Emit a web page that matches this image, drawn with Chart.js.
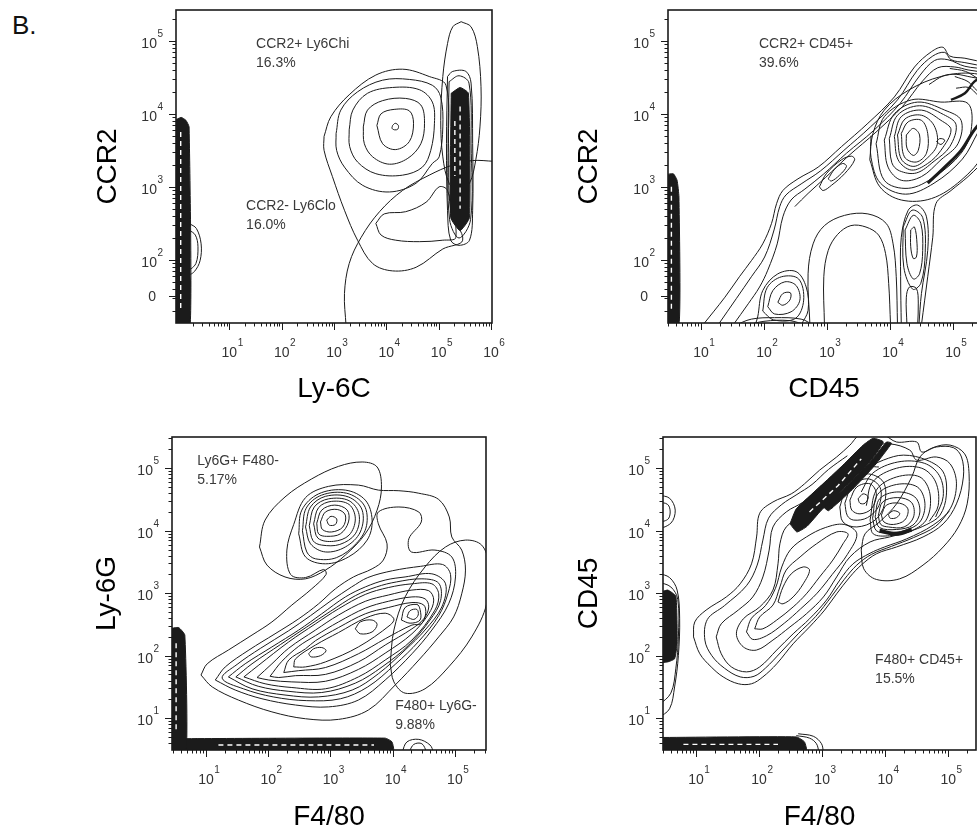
<!DOCTYPE html>
<html>
<head>
<meta charset="utf-8">
<script src="https://cdn.jsdelivr.net/npm/chart.js@4.4.0/dist/chart.umd.min.js"></script>
<style>
  html, body { margin: 0; padding: 0; background: #fff; width: 977px; height: 833px; overflow: hidden; }
  .panel { position: absolute; }
  #tag { position: absolute; left: 12px; top: 10px; line-height: 26px; font: 26px "Liberation Sans", Arial, sans-serif; color: #111; }
</style>
</head>
<body>
<div id="tag">B.</div>
<canvas id="pA" class="panel"></canvas>
<canvas id="pB" class="panel"></canvas>
<canvas id="pC" class="panel"></canvas>
<canvas id="pD" class="panel"></canvas>
<script>
// all values are log10 fluorescence (decades); the biexponential "0" sits below 10^2 on the CCR2 axes

// ---- panel A: CCR2 vs Ly-6C ----
const A_X_EXP = [1, 2, 3, 4, 5, 6];
const A_Y_EXP = [2, 3, 4, 5];
const A_Y_ZERO = 1.50;
const A_NOTE_HI = ['CCR2+ Ly6Chi', '16.3%'];
const A_NOTE_LO = ['CCR2- Ly6Clo', '16.0%'];
const A_RING_0 = [[4.12,3.84],[4.17,3.87],[4.23,3.84],[4.22,3.79],[4.16,3.78],[4.11,3.80]];
const A_RING_1 = [[3.82,3.84],[3.90,4.00],[4.15,4.06],[4.44,4.04],[4.52,3.87],[4.44,3.62],[4.18,3.51],[3.93,3.59]];
const A_RING_2 = [[3.56,3.82],[3.64,4.05],[3.93,4.18],[4.37,4.21],[4.66,4.12],[4.73,3.87],[4.66,3.59],[4.41,3.39],[4.06,3.31],[3.74,3.41],[3.58,3.59]];
const A_RING_3 = [[3.29,3.78],[3.36,4.05],[3.64,4.28],[4.12,4.36],[4.63,4.33],[4.88,4.16],[4.92,3.87],[4.85,3.50],[4.69,3.27],[4.31,3.16],[3.80,3.18],[3.45,3.34],[3.30,3.55]];
const A_RING_4 = [[3.04,3.73],[3.13,4.05],[3.45,4.30],[3.93,4.46],[4.44,4.47],[4.88,4.39],[5.04,4.23],[5.08,3.82],[5.01,3.41],[4.88,3.32],[4.57,3.05],[4.06,2.93],[3.55,3.02],[3.20,3.27],[3.05,3.50]];
const A_OUTER = [[2.81,3.69],[2.94,3.96],[3.29,4.26],[3.80,4.53],[4.31,4.61],[4.82,4.51],[5.14,4.39],[5.19,3.59],[5.23,2.68],[5.46,2.27],[5.08,2.15],[4.57,1.90],[4.12,1.85],[3.74,1.95],[3.45,2.27],[3.20,2.68],[2.97,3.14],[2.81,3.50]];
const A_LOBE = [[3.80,2.50],[3.96,2.63],[4.37,2.66],[4.76,2.79],[5.01,3.00],[5.17,2.95],[5.33,2.31],[5.08,2.27],[4.63,2.25],[4.18,2.27],[3.90,2.34]];
const A_CLUSTER_1 = [[5.17,4.51],[5.27,4.58],[5.52,4.58],[5.62,4.42],[5.65,3.59],[5.65,2.68],[5.59,2.27],[5.39,2.20],[5.23,2.27],[5.17,2.68],[5.15,3.59]];
const A_CLUSTER_2 = [[5.20,4.44],[5.39,4.52],[5.58,4.42],[5.62,3.59],[5.61,2.55],[5.39,2.30],[5.21,2.55],[5.18,3.59]];
const A_CLUSTER_CORE = [[5.24,4.28],[5.41,4.36],[5.57,4.28],[5.59,2.58],[5.41,2.40],[5.23,2.58]];
const A_CLUSTER_GAP = [[5.41,4.10],[5.41,2.70]];
const A_CLUSTER_GAP_2 = [[5.31,3.90],[5.31,3.15]];
const A_GATE_HI = [[5.43,5.26],[5.62,5.19],[5.74,4.92],[5.81,4.37],[5.79,3.82],[5.71,3.37],[5.59,3.05],[5.39,2.93],[5.20,3.05],[5.08,3.41],[5.04,3.91],[5.08,4.51],[5.17,4.96],[5.27,5.19]];
const A_GATE_LO = [[3.23,1.10],[3.20,1.54],[3.29,1.95],[3.52,2.31],[3.87,2.66],[4.31,2.95],[4.82,3.16],[5.27,3.30],[5.65,3.36],[6.05,3.35]];
const A_PILE = [[-0.05,3.91],[0.08,3.95],[0.17,3.91],[0.23,3.82],[0.25,1.10],[-0.05,1.10]];
const A_PILE_BUMP_1 = [[0.23,2.50],[0.37,2.43],[0.46,2.22],[0.44,1.99],[0.33,1.84],[0.23,1.81]];
const A_PILE_BUMP_2 = [[0.23,2.41],[0.35,2.34],[0.40,2.18],[0.36,1.95],[0.23,1.88]];
const A_PILE_GAP = [[0.07,3.75],[0.07,1.30]];

// ---- panel B: CCR2 vs CD45 ----
const B_X_EXP = [1, 2, 3, 4, 5];
const B_Y_EXP = [2, 3, 4, 5];
const B_Y_ZERO = 1.50;
const B_NOTE = ['CCR2+ CD45+', '39.6%'];
const B_OUTER_LEFT = [[1.03,1.11],[1.38,1.49],[1.61,1.77],[1.80,1.99],[1.98,2.22],[2.12,2.50],[2.20,2.77],[2.30,2.95],[2.54,3.11],[2.86,3.27],[3.23,3.55],[3.65,3.87],[4.07,4.23],[4.39,4.64],[4.66,4.85],[4.84,4.91],[4.95,4.79],[5.19,4.76],[5.56,4.69]];
const B_OUTER_RIGHT = [[5.56,3.41],[5.24,3.14],[4.97,2.95],[4.73,2.77],[4.68,2.31],[4.60,1.77],[4.50,1.11]];
const B_ARCH_1 = [[2.96,1.11],[2.95,1.77],[3.02,2.13],[3.17,2.35],[3.38,2.47],[3.62,2.45],[3.82,2.34],[3.93,2.09],[3.98,1.68],[4.01,1.11]];
const B_ARCH_2 = [[2.73,1.11],[2.70,1.81],[2.78,2.22],[2.96,2.47],[3.28,2.61],[3.65,2.63],[3.94,2.50],[4.05,2.22],[4.10,1.77],[4.12,1.11]];
const B_LEFT_2 = [[1.27,1.11],[1.56,1.47],[1.80,1.77],[2.01,2.04],[2.16,2.41],[2.25,2.73],[2.35,2.89],[2.59,3.04],[2.90,3.22],[3.27,3.50],[3.69,3.82],[4.12,4.19],[4.43,4.59],[4.68,4.79],[4.87,4.84],[4.97,4.74],[5.19,4.70],[5.56,4.64]];
const B_LEFT_3 = [[1.51,1.11],[1.75,1.40],[1.93,1.63],[2.06,1.86],[2.21,2.22],[2.30,2.59],[2.43,2.82],[2.65,2.97],[2.94,3.17],[3.31,3.46],[3.74,3.77],[4.16,4.14],[4.48,4.53],[4.71,4.73],[4.92,4.74],[5.19,4.65],[5.56,4.61]];
const B_LEFT_4 = [[2.49,2.73],[2.70,2.91],[2.98,3.13],[3.35,3.43],[3.78,3.75],[4.20,4.10],[4.52,4.45],[4.76,4.63],[5.03,4.64],[5.24,4.60],[5.56,4.56]];
const B_LEFT_5 = [[4.62,4.40],[4.85,4.52],[5.05,4.54],[5.30,4.50],[5.56,4.46]];
const B_LOW_1 = [[2.22,1.42],[2.30,1.54],[2.42,1.55],[2.41,1.45],[2.30,1.38]];
const B_LOW_2 = [[2.06,1.36],[2.14,1.58],[2.33,1.70],[2.51,1.65],[2.57,1.45],[2.43,1.29],[2.17,1.26]];
const B_LOW_2B = [[1.98,1.30],[2.05,1.62],[2.28,1.77],[2.55,1.74],[2.63,1.45],[2.50,1.20],[2.15,1.18]];
const B_LOW_3 = [[1.86,1.11],[1.90,1.22],[1.98,1.58],[2.22,1.81],[2.51,1.84],[2.67,1.63],[2.70,1.31],[2.59,1.11]];
const B_BOTTOM_1 = [[1.53,1.10],[1.80,1.19],[2.17,1.21],[2.59,1.19],[2.80,1.10]];
const B_BOTTOM_2 = [[1.70,1.10],[2.00,1.16],[2.40,1.17],[2.70,1.10]];
const B_UP_1 = [[3.02,3.11],[3.12,3.24],[3.25,3.32],[3.31,3.28],[3.20,3.16],[3.07,3.08]];
const B_UP_2 = [[2.88,3.00],[2.99,3.18],[3.23,3.37],[3.39,3.42],[3.44,3.37],[3.28,3.18],[3.07,3.02],[2.94,2.95]];
const B_CENTER_1 = [[4.26,3.71],[4.37,3.80],[4.47,3.71],[4.45,3.50],[4.37,3.43],[4.27,3.53]];
const B_CENTER_2 = [[4.18,3.73],[4.29,3.89],[4.50,3.91],[4.60,3.73],[4.58,3.46],[4.42,3.34],[4.23,3.41]];
const B_CENTER_2B = [[4.12,3.71],[4.24,3.93],[4.50,3.98],[4.70,3.84],[4.75,3.58],[4.60,3.40],[4.38,3.28],[4.18,3.38]];
const B_CENTER_3 = [[4.07,3.69],[4.18,3.96],[4.50,4.05],[4.81,3.91],[4.97,3.78],[4.81,3.50],[4.60,3.32],[4.34,3.23],[4.13,3.37]];
const B_CENTER_3B = [[3.99,3.66],[4.12,3.98],[4.47,4.11],[4.85,3.99],[5.05,3.85],[4.95,3.55],[4.70,3.35],[4.42,3.19],[4.15,3.22],[4.03,3.33]];
const B_CENTER_4 = [[3.91,3.64],[4.07,4.00],[4.44,4.16],[4.87,4.05],[5.13,3.91],[5.08,3.59],[4.81,3.37],[4.50,3.14],[4.18,3.09],[3.97,3.27]];
const B_CENTER_5 = [[3.78,3.59],[3.91,3.96],[4.34,4.19],[4.81,4.16],[5.24,4.14],[5.29,3.78],[5.13,3.46],[4.71,3.14],[4.29,2.98],[3.91,3.09]];
const B_CENTER_6 = [[3.70,3.70],[3.70,3.40],[3.85,3.05],[4.25,2.90],[4.70,3.05],[5.15,3.38],[5.40,3.75]];
const B_CENTER_SPOT = [[4.74,3.62],[4.79,3.66],[4.87,3.64],[4.81,3.58]];
const B_LEG_1 = [[4.33,2.41],[4.39,2.45],[4.43,2.22],[4.42,2.04],[4.37,2.02],[4.33,2.18]];
const B_LEG_2 = [[4.24,2.41],[4.37,2.61],[4.49,2.50],[4.52,2.13],[4.47,1.81],[4.37,1.74],[4.27,1.95]];
const B_LEG_2B = [[4.21,2.45],[4.35,2.68],[4.52,2.58],[4.56,2.10],[4.49,1.68],[4.36,1.60],[4.22,1.90]];
const B_LEG_3 = [[4.18,1.11],[4.17,1.77],[4.18,2.31],[4.29,2.68],[4.44,2.75],[4.58,2.59],[4.60,2.13],[4.50,1.54],[4.46,1.11]];
const B_LEG_4 = [[4.27,1.11],[4.26,1.49],[4.31,1.63],[4.42,1.61],[4.45,1.41],[4.44,1.11]];
const B_DENSE_1 = [[4.60,3.05],[4.87,3.27],[5.13,3.50],[5.34,3.78],[5.56,4.00]];
const B_DENSE_2 = [[4.97,4.19],[5.19,4.28],[5.34,4.44],[5.56,4.55]];
const B_UPPER_RIGHT = [[5.03,4.51],[5.24,4.44],[5.38,4.32],[5.56,4.23]];
const B_UPPER_RIGHT_2 = [[4.95,4.62],[5.20,4.58],[5.40,4.48],[5.56,4.40]];
const B_UPPER_RIGHT_3 = [[5.05,4.35],[5.25,4.36],[5.40,4.25],[5.56,4.12]];
const B_GATE = [[3.68,3.37],[3.73,3.73],[3.91,4.05],[4.29,4.32],[4.81,4.51],[5.34,4.55],[5.66,4.42],[5.71,3.96],[5.50,3.46],[5.13,3.09],[4.66,2.84],[4.18,2.82],[3.84,3.00]];
const B_PILE = [[0.40,3.16],[0.56,3.18],[0.62,3.09],[0.65,2.86],[0.65,1.10],[0.40,1.10]];
const B_PILE_GAP = [[0.53,3.00],[0.53,1.30]];

// ---- panel C: Ly-6G vs F4/80 ----
const C_X_EXP = [1, 2, 3, 4, 5];
const C_Y_EXP = [1, 2, 3, 4, 5];
const C_NOTE_LY6G = ['Ly6G+ F480-', '5.17%'];
const C_NOTE_F480 = ['F480+ Ly6G-', '9.88%'];
const C_GATE_LY6G = [[1.86,3.74],[1.95,4.17],[2.27,4.54],[2.70,4.83],[3.13,5.03],[3.51,5.10],[3.75,5.02],[3.82,4.70],[3.75,4.33],[3.56,3.95],[3.24,3.61],[2.92,3.37],[2.60,3.23],[2.27,3.26],[1.98,3.45]];
const C_GATE_F480 = [[3.96,1.87],[4.02,2.41],[4.20,2.94],[4.52,3.42],[4.85,3.74],[5.17,3.85],[5.43,3.77],[5.54,3.47],[5.51,2.83],[5.27,2.30],[4.90,1.82],[4.52,1.47],[4.20,1.40],[4.02,1.58]];
const C_LY6G_1 = [[2.94,4.17],[3.01,4.23],[3.10,4.19],[3.08,4.10],[2.98,4.09]];
const C_LY6G_2 = [[2.84,4.14],[2.92,4.30],[3.11,4.34],[3.24,4.25],[3.20,4.06],[3.02,3.98],[2.87,4.02]];
const C_LY6G_3 = [[2.78,4.12],[2.86,4.33],[3.07,4.41],[3.27,4.33],[3.29,4.14],[3.16,3.95],[2.94,3.91],[2.81,3.95]];
const C_LY6G_4 = [[2.73,4.11],[2.81,4.37],[3.02,4.47],[3.30,4.42],[3.40,4.19],[3.30,3.93],[3.05,3.83],[2.80,3.88]];
const C_LY6G_4B = [[2.66,4.08],[2.74,4.38],[2.97,4.51],[3.30,4.48],[3.46,4.26],[3.40,3.95],[3.15,3.78],[2.86,3.77],[2.72,3.84]];
const C_LY6G_5 = [[2.60,4.06],[2.68,4.38],[2.92,4.55],[3.29,4.54],[3.51,4.33],[3.48,3.98],[3.24,3.74],[2.92,3.66],[2.68,3.79]];
const C_LY6G_5B = [[2.55,4.00],[2.61,4.36],[2.86,4.57],[3.26,4.60],[3.54,4.41],[3.58,4.08],[3.42,3.80],[3.10,3.57],[2.76,3.55],[2.62,3.66]];
const C_LY6G_6 = [[2.49,3.95],[2.54,4.33],[2.81,4.59],[3.24,4.65],[3.56,4.49],[3.67,4.17],[3.59,3.85],[3.29,3.58],[2.92,3.47],[2.60,3.58]];
const C_OUTER = [[0.92,1.69],[1.02,1.87],[1.36,2.09],[1.74,2.33],[2.06,2.54],[2.38,2.81],[2.70,3.07],[2.93,3.30],[2.89,3.38],[2.60,3.25],[2.36,3.30],[2.30,3.69],[2.41,4.10],[2.60,4.53],[2.97,4.71],[3.45,4.73],[3.77,4.65],[4.10,4.64],[4.42,4.60],[4.74,4.50],[4.91,4.22],[4.95,3.90],[5.11,3.69],[5.17,3.37],[5.11,2.99],[4.98,2.62],[4.74,2.30],[4.42,1.93],[4.04,1.53],[3.61,1.13],[3.13,0.98],[2.60,0.99],[2.06,1.10],[1.52,1.29],[1.10,1.50]];
const C_LEVEL_2 = [[1.15,1.61],[1.31,1.82],[1.69,2.09],[2.11,2.35],[2.49,2.59],[2.81,2.83],[3.08,3.07],[3.37,3.26],[3.67,3.39],[3.85,3.53],[3.91,3.79],[3.77,4.11],[3.77,4.30],[4.10,4.38],[4.42,4.30],[4.46,4.14],[4.26,3.87],[4.30,3.66],[4.68,3.69],[4.95,3.58],[5.01,3.26],[4.90,2.83],[4.63,2.41],[4.31,2.03],[3.88,1.61],[3.45,1.29],[2.97,1.18],[2.44,1.21],[1.90,1.31],[1.47,1.45]];
const C_LEVEL_2B = [[3.34,3.10],[3.01,2.88],[2.68,2.64],[2.33,2.40],[1.88,2.12],[1.50,1.86],[1.26,1.64],[1.60,1.47],[2.08,1.34],[2.62,1.28],[3.16,1.31],[3.60,1.50],[4.04,1.86],[4.42,2.23],[4.74,2.64],[4.89,3.00],[4.93,3.30],[4.80,3.46],[4.45,3.43],[4.00,3.36],[3.60,3.25]];
const C_LEVEL_3 = [[1.36,1.66],[1.63,1.87],[2.06,2.14],[2.49,2.41],[2.86,2.67],[3.24,2.94],[3.56,3.10],[3.88,3.21],[4.20,3.26],[4.63,3.31],[4.85,3.15],[4.79,2.78],[4.52,2.41],[4.20,2.09],[3.77,1.71],[3.35,1.45],[2.81,1.34],[2.27,1.37],[1.74,1.47]];
const C_LEVEL_3B = [[1.48,1.66],[1.74,1.87],[2.20,2.18],[2.62,2.46],[3.00,2.71],[3.40,2.96],[3.74,3.10],[4.06,3.18],[4.47,3.23],[4.74,3.16],[4.77,2.88],[4.60,2.57],[4.26,2.17],[3.83,1.82],[3.40,1.56],[2.86,1.41],[2.32,1.43],[1.84,1.51]];
const C_LEVEL_4 = [[1.61,1.66],[1.85,1.85],[2.33,2.22],[2.76,2.51],[3.13,2.75],[3.56,2.98],[3.93,3.09],[4.31,3.15],[4.63,3.15],[4.74,2.99],[4.68,2.73],[4.31,2.25],[3.88,1.93],[3.45,1.66],[2.92,1.47],[2.38,1.49],[1.95,1.55]];
const C_LEVEL_5 = [[1.82,1.65],[2.06,1.87],[2.33,2.12],[2.76,2.41],[3.13,2.65],[3.56,2.87],[3.93,2.97],[4.31,3.05],[4.58,3.04],[4.66,2.89],[4.58,2.67],[4.31,2.35],[3.88,2.04],[3.45,1.78],[2.92,1.59],[2.38,1.58],[2.01,1.61]];
const C_LEVEL_6 = [[2.03,1.67],[2.22,1.91],[2.49,2.15],[2.76,2.32],[3.13,2.54],[3.56,2.76],[3.93,2.87],[4.31,2.94],[4.52,2.91],[4.58,2.78],[4.50,2.59],[4.31,2.43],[3.88,2.17],[3.45,1.90],[2.92,1.70],[2.44,1.68],[2.17,1.65]];
const C_LEVEL_7 = [[2.25,1.73],[2.33,1.93],[2.60,2.11],[2.76,2.24],[3.13,2.45],[3.56,2.67],[3.93,2.77],[4.31,2.85],[4.50,2.81],[4.53,2.67],[4.46,2.51],[4.31,2.49],[3.88,2.27],[3.45,2.03],[2.92,1.81],[2.49,1.76]];
const C_LEVEL_8 = [[2.41,1.82],[2.44,1.95],[2.76,2.17],[3.13,2.37],[3.56,2.60],[3.88,2.68],[4.02,2.59],[3.96,2.49],[3.45,2.14],[2.92,1.90],[2.60,1.82]];
const C_PEAK_L = [[2.65,2.03],[2.73,2.11],[2.86,2.13],[2.93,2.08],[2.84,2.00],[2.69,1.98]];
const C_PEAK_M = [[3.40,2.43],[3.48,2.54],[3.67,2.57],[3.75,2.50],[3.67,2.38],[3.48,2.35]];
const C_PEAK_R = [[4.23,2.62],[4.28,2.72],[4.39,2.74],[4.41,2.65],[4.34,2.58]];
const C_PEAK_R2 = [[4.14,2.57],[4.20,2.77],[4.39,2.82],[4.44,2.74],[4.44,2.57],[4.28,2.52]];
const C_PILE_Y = [[0.40,2.43],[0.56,2.45],[0.66,2.33],[0.68,0.45],[0.40,0.45]];
const C_PILE_X = [[0.40,0.67],[3.88,0.68],[3.99,0.62],[4.01,0.45],[0.40,0.45]];
const C_PILE_ARC_1 = [[4.15,0.45],[4.23,0.62],[4.42,0.66],[4.60,0.57],[4.66,0.45]];
const C_PILE_ARC_2 = [[4.26,0.45],[4.34,0.58],[4.47,0.59],[4.55,0.45]];
const C_GAP_Y = [[0.52,2.20],[0.52,0.80]];
const C_GAP_X = [[1.20,0.57],[3.70,0.57]];

// ---- panel D: CD45 vs F4/80 ----
const D_X_EXP = [1, 2, 3, 4, 5];
const D_Y_EXP = [1, 2, 3, 4, 5];
const D_NOTE = ['F480+ CD45+', '15.5%'];
const D_GATE = [[3.62,3.69],[3.68,3.95],[3.91,4.14],[4.18,4.43],[4.42,4.86],[4.55,5.18],[4.76,5.33],[5.03,5.37],[5.26,5.23],[5.33,4.91],[5.30,4.43],[5.16,4.06],[4.92,3.74],[4.60,3.45],[4.23,3.23],[3.86,3.22],[3.66,3.39]];
const D_OUTER = [[0.96,2.30],[0.98,2.54],[1.16,2.73],[1.48,2.94],[1.70,3.15],[1.88,3.47],[1.96,3.90],[2.01,4.28],[2.22,4.46],[2.51,4.59],[2.72,4.75],[2.96,4.97],[3.23,5.18],[3.44,5.37],[3.60,5.53],[3.97,5.53],[4.18,5.42],[4.50,5.42],[4.58,5.26],[4.81,5.34],[5.08,5.33],[5.21,5.18],[5.24,4.86],[5.13,4.43],[4.92,4.11],[4.60,3.90],[4.18,3.74],[3.86,3.63],[3.62,3.45],[3.44,3.26],[3.23,2.99],[3.04,2.73],[2.80,2.46],[2.54,2.19],[2.28,1.87],[2.06,1.66],[1.88,1.55],[1.67,1.55],[1.43,1.66],[1.24,1.82],[1.06,2.03]];
const D_LEVEL_1B = [[3.40,5.20],[3.10,4.98],[2.84,4.74],[2.60,4.58],[2.36,4.42],[2.15,4.20],[2.06,3.85],[1.97,3.45],[1.80,3.12],[1.45,2.80],[1.18,2.58],[1.14,2.25],[1.25,2.00],[1.45,1.80],[1.70,1.66],[1.92,1.67],[2.10,1.80],[2.35,2.06],[2.62,2.35],[2.90,2.63],[3.15,2.95],[3.35,3.22],[3.55,3.45],[3.78,3.62],[4.10,3.75],[4.45,3.89],[4.80,4.07],[5.02,4.32]];
const D_LEVEL_2 = [[1.32,2.30],[1.40,2.51],[1.67,2.73],[1.90,2.94],[2.06,3.26],[2.16,3.69],[2.22,4.06],[2.43,4.30],[2.70,4.46],[2.96,4.70],[3.23,4.91],[3.49,5.15],[3.76,5.34],[4.07,5.39],[4.39,5.29],[4.50,5.13],[4.81,5.18],[5.03,5.07],[5.13,4.75],[5.03,4.35],[4.76,4.09],[4.34,3.87],[3.99,3.74],[3.76,3.64],[3.49,3.47],[3.28,3.21],[3.07,2.89],[2.80,2.59],[2.54,2.35],[2.28,2.09],[2.01,1.82],[1.80,1.74],[1.56,1.82],[1.40,2.03]];
const D_LEVEL_3 = [[3.65,4.97],[3.97,5.13],[4.29,5.21],[4.66,5.13],[4.92,4.94],[4.97,4.57],[4.87,4.25],[4.66,4.10],[4.36,3.98],[4.07,3.90],[3.76,3.82],[3.44,3.58],[3.23,3.26],[3.02,2.94],[2.75,2.67],[2.49,2.46],[2.22,2.25],[1.96,2.09],[1.75,2.14],[1.64,2.35],[1.75,2.59],[2.01,2.78],[2.22,3.05],[2.30,3.47],[2.33,3.79],[2.43,4.06],[2.70,4.25],[3.02,4.51],[3.33,4.75]];
const D_LOBE_0 = [[1.80,2.38],[1.88,2.60],[2.10,2.80],[2.26,3.08],[2.36,3.42],[2.50,3.70],[2.75,3.90],[3.05,4.05],[3.35,4.10],[3.55,3.95],[3.40,3.62],[3.16,3.30],[2.92,3.00],[2.66,2.75],[2.40,2.52],[2.12,2.32],[1.90,2.26]];
const D_LOBE_1 = [[1.93,2.43],[2.01,2.62],[2.22,2.81],[2.33,3.10],[2.43,3.37],[2.65,3.58],[2.91,3.79],[3.23,3.98],[3.41,3.95],[3.33,3.79],[3.17,3.53],[2.96,3.26],[2.75,2.99],[2.54,2.78],[2.28,2.57],[2.06,2.43]];
const D_LOBE_2 = [[2.30,2.86],[2.38,3.10],[2.51,3.31],[2.70,3.42],[2.80,3.37],[2.70,3.15],[2.54,2.94],[2.38,2.83]];
const D_BAND = [[2.49,4.11],[2.59,4.35],[2.96,4.70],[3.33,5.05],[3.65,5.37],[3.81,5.48],[3.97,5.42],[3.72,5.05],[3.35,4.68],[2.98,4.32],[2.76,4.07],[2.60,3.98]];
const D_BAND_GAP = [[2.80,4.30],[3.25,4.72],[3.62,5.15]];
const D_BAND_B = [[3.02,4.38],[3.40,4.72],[3.75,5.08],[4.02,5.42],[4.10,5.40],[3.83,5.04],[3.48,4.66],[3.10,4.32]];
const D_MID_1 = [[3.57,4.51],[3.65,4.59],[3.73,4.54],[3.68,4.44],[3.60,4.44]];
const D_MID_2 = [[3.44,4.49],[3.55,4.70],[3.76,4.75],[3.86,4.59],[3.78,4.35],[3.60,4.27],[3.47,4.33]];
const D_MID_2B = [[3.36,4.44],[3.48,4.73],[3.73,4.83],[3.92,4.69],[3.90,4.40],[3.72,4.21],[3.50,4.17],[3.40,4.24]];
const D_MID_3 = [[3.28,4.38],[3.41,4.75],[3.70,4.91],[3.97,4.78],[3.99,4.43],[3.84,4.17],[3.55,4.06],[3.33,4.14]];
const D_MID_4 = [[3.15,4.35],[3.30,4.80],[3.62,5.02],[3.90,5.02]];
const D_RIGHT_1 = [[4.05,4.26],[4.13,4.32],[4.23,4.28],[4.18,4.21],[4.08,4.20]];
const D_RIGHT_2 = [[3.94,4.25],[4.02,4.41],[4.23,4.44],[4.36,4.35],[4.31,4.17],[4.13,4.10],[3.98,4.14]];
const D_RIGHT_2B = [[3.89,4.24],[3.96,4.46],[4.20,4.53],[4.42,4.45],[4.45,4.22],[4.30,4.06],[4.05,4.06],[3.93,4.10]];
const D_RIGHT_3 = [[3.84,4.22],[3.91,4.51],[4.18,4.62],[4.47,4.54],[4.55,4.30],[4.44,4.09],[4.18,4.02],[3.91,4.05]];
const D_RIGHT_3B = [[3.80,4.20],[3.88,4.58],[4.18,4.74],[4.51,4.70],[4.63,4.44],[4.55,4.14],[4.30,4.00],[4.05,3.97],[3.86,4.00]];
const D_RIGHT_4 = [[3.76,4.17],[3.86,4.65],[4.18,4.86],[4.55,4.86],[4.71,4.59],[4.66,4.19],[4.42,4.00],[4.07,3.92],[3.81,3.95]];
const D_RIGHT_5 = [[3.70,4.40],[3.80,4.78],[4.18,5.00],[4.58,5.00],[4.80,4.78],[4.84,4.40],[4.70,4.15]];
const D_RIGHT_6 = [[3.62,4.62],[3.80,4.92],[4.20,5.10],[4.62,5.08],[4.86,4.88],[4.92,4.55],[4.80,4.22]];
const D_DENSE = [[3.91,4.00],[4.18,3.95],[4.42,4.02]];
const D_PILE_Y = [[0.40,3.00],[0.55,3.05],[0.68,2.95],[0.70,2.20],[0.66,1.95],[0.55,1.90],[0.40,1.90]];
const D_PILE_Y_EDGE_1 = [[0.40,3.32],[0.58,3.25],[0.70,3.05],[0.74,2.60],[0.72,2.00],[0.66,1.50],[0.58,1.15],[0.40,1.00]];
const D_PILE_Y_EDGE_2 = [[0.40,3.18],[0.60,3.10],[0.71,2.90],[0.72,2.30],[0.68,1.80],[0.60,1.40],[0.40,1.20]];
const D_PILE_SPOT_1 = [[0.40,4.57],[0.58,4.52],[0.67,4.33],[0.60,4.12],[0.40,4.06]];
const D_PILE_SPOT_2 = [[0.40,4.46],[0.55,4.42],[0.59,4.30],[0.55,4.18],[0.40,4.16]];
const D_PILE_X = [[0.40,0.69],[2.59,0.70],[2.72,0.62],[2.75,0.45],[0.40,0.45]];
const D_PILE_ARC_1 = [[2.59,0.72],[2.80,0.68],[2.91,0.59],[2.95,0.45]];
const D_PILE_ARC_2 = [[2.62,0.75],[2.86,0.71],[2.99,0.59],[3.02,0.45]];
const D_GAP_X = [[0.80,0.58],[2.30,0.58]];

// ---------------------------------------------------------------
const FONT = '"Liberation Sans", Arial, Helvetica, sans-serif';
const INK = '#1b1b1b';
const NOTE_INK = '#3a3a3a';

const pts = a => a.map(p => ({x: p[0], y: p[1]}));
const base = {showLine: true, pointRadius: 0, borderColor: INK, borderWidth: 1, tension: 0.35, fill: false};
const ring = (a, w) => Object.assign({}, base, {data: pts(a.concat([a[0]])), borderWidth: w || 1});
const path = (a, w) => Object.assign({}, base, {data: pts(a), borderWidth: w || 1});
const solid = a => Object.assign({}, base, {data: pts(a.concat([a[0]])), backgroundColor: INK, tension: 0.15, fill: 'shape'});
const gap = a => Object.assign({}, base, {data: pts(a), borderColor: '#fff', borderWidth: 1.4, borderDash: [5, 4], tension: 0, order: -1});

// ticks, labels, frame and gate notes
const flowAxes = {
  id: 'flowAxes',
  afterDraw(chart, _args, o) {
    const {ctx, chartArea: a} = chart;
    const xs = chart.scales.x, ys = chart.scales.y;
    const minor = s => {
      const v = [];
      for (let d = Math.floor(s.min); d < s.max; d++) {
        for (let k = 2; k < 10; k++) {
          const t = d + Math.log10(k);
          if (t > s.min && t < s.max) v.push(t);
        }
      }
      return v;
    };
    ctx.save();
    ctx.strokeStyle = INK;
    ctx.lineWidth = 1;
    ctx.beginPath();
    minor(xs).forEach(t => { const p = Math.round(xs.getPixelForValue(t)) + 0.5; ctx.moveTo(p, a.bottom); ctx.lineTo(p, a.bottom + 3.5); });
    o.xExp.forEach(e => { const p = Math.round(xs.getPixelForValue(e)) + 0.5; ctx.moveTo(p, a.bottom); ctx.lineTo(p, a.bottom + 7); });
    minor(ys).forEach(t => { const p = Math.round(ys.getPixelForValue(t)) + 0.5; ctx.moveTo(a.left, p); ctx.lineTo(a.left - 3.5, p); });
    const yMajors = o.yZero != null ? o.yExp.concat([o.yZero]) : o.yExp;
    yMajors.forEach(e => { const p = Math.round(ys.getPixelForValue(e)) + 0.5; ctx.moveTo(a.left, p); ctx.lineTo(a.left - 7, p); });
    ctx.stroke();

    ctx.lineWidth = 1.6;
    ctx.strokeRect(a.left, a.top, a.right - a.left, a.bottom - a.top);

    ctx.fillStyle = '#333';
    ctx.textBaseline = 'alphabetic';
    o.xExp.forEach(e => {
      const p = xs.getPixelForValue(e);
      ctx.font = '14px ' + FONT;
      ctx.textAlign = 'center';
      const w = ctx.measureText('10').width;
      ctx.fillText('10', p, a.bottom + 34);
      ctx.font = '10px ' + FONT;
      ctx.textAlign = 'left';
      ctx.fillText(String(e), p + w / 2 + 0.5, a.bottom + 23);
    });
    o.yExp.forEach(e => {
      const p = ys.getPixelForValue(e);
      ctx.font = '10px ' + FONT;
      ctx.textAlign = 'right';
      const ew = ctx.measureText(String(e)).width;
      ctx.fillText(String(e), a.left - 13, p - 4);
      ctx.font = '14px ' + FONT;
      ctx.fillText('10', a.left - 13 - ew - 0.5, p + 7);
    });
    if (o.yZero != null) {
      ctx.font = '14px ' + FONT;
      ctx.textAlign = 'right';
      ctx.fillText('0', a.left - 20, ys.getPixelForValue(o.yZero) + 5);
    }

    ctx.fillStyle = NOTE_INK;
    ctx.font = '14px ' + FONT;
    ctx.textAlign = 'left';
    o.notes.forEach(n => {
      const px = xs.getPixelForValue(n.at[0]), py = ys.getPixelForValue(n.at[1]);
      n.lines.forEach((t, i) => ctx.fillText(t, px, py + 19 * i));
    });
    ctx.restore();
  }
};

function makePanel(p) {
  const cv = document.getElementById(p.id);
  const padR = 18;
  const left = p.area.l - 96, top = p.area.t - 10;
  const w = p.area.r - left + padR, h = p.xTitleY + 30 - top;
  cv.width = w; cv.height = h;
  cv.style.left = left + 'px'; cv.style.top = top + 'px';
  cv.style.width = w + 'px'; cv.style.height = h + 'px';
  const xH = h - (p.area.b - top);
  const titleFont = {family: FONT, size: 28, lineHeight: 1};
  new Chart(cv, {
    type: 'scatter',
    data: {datasets: p.datasets},
    options: {
      responsive: false,
      animation: false,
      events: [],
      layout: {padding: {left: 0, top: 10, right: padR, bottom: 0}},
      plugins: {
        legend: {display: false},
        tooltip: {enabled: false},
        flowAxes: {xExp: p.xExp, yExp: p.yExp, yZero: p.yZero, notes: p.notes}
      },
      scales: {
        x: {
          type: 'linear', min: p.x[0], max: p.x[1],
          grid: {display: false}, border: {display: false}, ticks: {display: false},
          title: {display: true, text: p.xTitle, color: '#000', font: titleFont, padding: {top: 0, bottom: 16}},
          afterFit: s => { s.height = xH; }
        },
        y: {
          type: 'linear', min: p.y[0], max: p.y[1],
          grid: {display: false}, border: {display: false}, ticks: {display: false},
          title: {display: true, text: p.yTitle, color: '#000', font: titleFont, padding: {top: p.yTitleX - left - 14, bottom: 0}},
          afterFit: s => { s.width = 96; }
        }
      }
    },
    plugins: [flowAxes]
  });
}

makePanel({
  id: 'pA', area: {l: 176, t: 10, r: 492, b: 323}, yTitleX: 108, xTitleY: 389,
  x: [-0.02, 6.02], y: [1.137, 5.42], xExp: A_X_EXP, yExp: A_Y_EXP, yZero: A_Y_ZERO,
  xTitle: 'Ly-6C', yTitle: 'CCR2',
  notes: [{lines: A_NOTE_HI, at: [1.51, 4.90]}, {lines: A_NOTE_LO, at: [1.32, 2.68]}],
  datasets: [
    solid(A_PILE), ring(A_PILE_BUMP_1), ring(A_PILE_BUMP_2), gap(A_PILE_GAP),
    ring(A_RING_0), ring(A_RING_1), ring(A_RING_2), ring(A_RING_3), ring(A_RING_4),
    ring(A_OUTER), ring(A_LOBE),
    ring(A_CLUSTER_1), ring(A_CLUSTER_2), solid(A_CLUSTER_CORE), gap(A_CLUSTER_GAP), gap(A_CLUSTER_GAP_2),
    ring(A_GATE_HI), path(A_GATE_LO)
  ]
});

makePanel({
  id: 'pB', area: {l: 668, t: 10, r: 980, b: 323}, yTitleX: 589, xTitleY: 389,
  x: [0.476, 5.43], y: [1.137, 5.42], xExp: B_X_EXP, yExp: B_Y_EXP, yZero: B_Y_ZERO,
  xTitle: 'CD45', yTitle: 'CCR2',
  notes: [{lines: B_NOTE, at: [1.92, 4.90]}],
  datasets: [
    solid(B_PILE), gap(B_PILE_GAP),
    path(B_OUTER_LEFT), path(B_OUTER_RIGHT), path(B_ARCH_1), path(B_ARCH_2),
    path(B_LEFT_2), path(B_LEFT_3), path(B_LEFT_4), path(B_LEFT_5),
    ring(B_LOW_1), ring(B_LOW_2), ring(B_LOW_2B), path(B_LOW_3), path(B_BOTTOM_1), path(B_BOTTOM_2),
    ring(B_UP_1), ring(B_UP_2),
    ring(B_CENTER_1), ring(B_CENTER_2), ring(B_CENTER_2B), ring(B_CENTER_3), ring(B_CENTER_3B),
    ring(B_CENTER_4), ring(B_CENTER_5), path(B_CENTER_6), ring(B_CENTER_SPOT),
    ring(B_LEG_1), ring(B_LEG_2), ring(B_LEG_2B), path(B_LEG_3), path(B_LEG_4),
    path(B_DENSE_1, 3), path(B_DENSE_2, 2.5), path(B_UPPER_RIGHT), path(B_UPPER_RIGHT_2), path(B_UPPER_RIGHT_3),
    ring(B_GATE)
  ]
});

makePanel({
  id: 'pC', area: {l: 172, t: 437, r: 486, b: 750}, yTitleX: 107, xTitleY: 817,
  x: [0.454, 5.50], y: [0.49, 5.50], xExp: C_X_EXP, yExp: C_Y_EXP, yZero: null,
  xTitle: 'F4/80', yTitle: 'Ly-6G',
  notes: [{lines: C_NOTE_LY6G, at: [0.86, 5.05]}, {lines: C_NOTE_F480, at: [4.04, 1.13]}],
  datasets: [
    solid(C_PILE_Y), solid(C_PILE_X), path(C_PILE_ARC_1), path(C_PILE_ARC_2), gap(C_GAP_Y), gap(C_GAP_X),
    ring(C_OUTER), ring(C_LEVEL_2), ring(C_LEVEL_2B), ring(C_LEVEL_3), ring(C_LEVEL_3B), ring(C_LEVEL_4), ring(C_LEVEL_5),
    ring(C_LEVEL_6), ring(C_LEVEL_7), ring(C_LEVEL_8),
    ring(C_PEAK_L), ring(C_PEAK_M), ring(C_PEAK_R), ring(C_PEAK_R2),
    ring(C_LY6G_1), ring(C_LY6G_2), ring(C_LY6G_3), ring(C_LY6G_4), ring(C_LY6G_4B), ring(C_LY6G_5), ring(C_LY6G_5B), ring(C_LY6G_6),
    ring(C_GATE_LY6G), ring(C_GATE_F480)
  ]
});

makePanel({
  id: 'pD', area: {l: 663, t: 437, r: 976, b: 750}, yTitleX: 589, xTitleY: 817,
  x: [0.476, 5.44], y: [0.49, 5.50], xExp: D_X_EXP, yExp: D_Y_EXP, yZero: null,
  xTitle: 'F4/80', yTitle: 'CD45',
  notes: [{lines: D_NOTE, at: [3.84, 1.86]}],
  datasets: [
    solid(D_PILE_Y), path(D_PILE_Y_EDGE_1), path(D_PILE_Y_EDGE_2), ring(D_PILE_SPOT_1), ring(D_PILE_SPOT_2),
    solid(D_PILE_X), path(D_PILE_ARC_1), path(D_PILE_ARC_2), gap(D_GAP_X),
    ring(D_OUTER), path(D_LEVEL_1B), ring(D_LEVEL_2), ring(D_LEVEL_3), ring(D_LOBE_0), ring(D_LOBE_1), ring(D_LOBE_2),
    solid(D_BAND), gap(D_BAND_GAP), solid(D_BAND_B),
    ring(D_MID_1), ring(D_MID_2), ring(D_MID_2B), ring(D_MID_3), path(D_MID_4),
    ring(D_RIGHT_1), ring(D_RIGHT_2), ring(D_RIGHT_2B), ring(D_RIGHT_3), ring(D_RIGHT_3B), ring(D_RIGHT_4),
    path(D_RIGHT_5), path(D_RIGHT_6), path(D_DENSE, 4),
    ring(D_GATE)
  ]
});
</script>
</body>
</html>
